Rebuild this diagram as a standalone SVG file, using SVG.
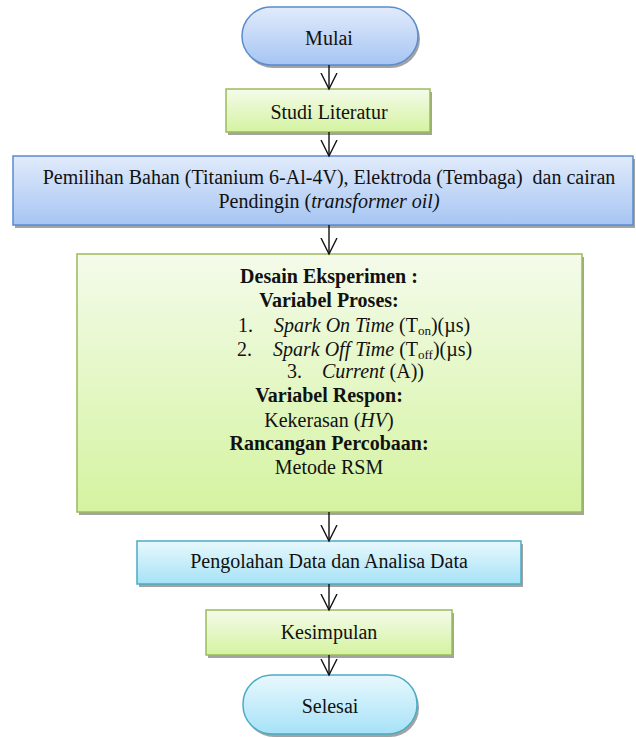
<svg xmlns="http://www.w3.org/2000/svg" width="636" height="738" viewBox="0 0 636 738">
  <defs>
    <linearGradient id="gBlue" x1="0" y1="0" x2="0" y2="1">
      <stop offset="0" stop-color="#e1ebfb"/>
      <stop offset="1" stop-color="#a6c5f3"/>
    </linearGradient>
    <linearGradient id="gGreen" x1="0" y1="0" x2="0" y2="1">
      <stop offset="0" stop-color="#f4fbea"/>
      <stop offset="1" stop-color="#d4f3a0"/>
    </linearGradient>
    <linearGradient id="gCyan" x1="0" y1="0" x2="0" y2="1">
      <stop offset="0" stop-color="#e8f8fd"/>
      <stop offset="1" stop-color="#a6e2f7"/>
    </linearGradient>
    <marker id="arr" markerWidth="18" markerHeight="18" viewBox="0 0 18 18" refX="16" refY="9" orient="auto" markerUnits="userSpaceOnUse">
      <path d="M0,1 L16,9 L0,17" fill="none" stroke="#111" stroke-width="1.4"/>
    </marker>
  </defs>
  <style>
    text { font-family: "Liberation Serif", "Times New Roman", serif; font-size: 20px; fill: #111; }
    .c { text-anchor: middle; }
    .b { font-weight: bold; }
    .i { font-style: italic; }
    .sub { font-size: 13px; }
    .shadow { fill: #a3a3a3; }
    .blue { fill: url(#gBlue); stroke: #5a8ccf; stroke-width: 1.5; }
    .green { fill: url(#gGreen); stroke: #9bbb59; stroke-width: 1.5; }
    .cyan { fill: url(#gCyan); stroke: #4bacc6; stroke-width: 1.5; }
    .link { stroke: #111; stroke-width: 1.4; fill: none; marker-end: url(#arr); }
  </style>

  <rect width="636" height="738" fill="#ffffff"/>

  <!-- Start terminator -->
  <g id="mulai">
    <rect class="shadow" x="244" y="10" width="176" height="58" rx="29"/>
    <rect class="blue" x="242" y="7" width="176" height="58" rx="29"/>
    <text class="c" x="329" y="45">Mulai</text>
  </g>

  <g id="studi-literatur">
    <rect class="shadow" x="228" y="92" width="204" height="43"/>
    <rect class="green" x="226" y="89" width="204" height="43"/>
    <text class="c" x="329" y="119">Studi Literatur</text>
  </g>

  <g id="pemilihan-bahan">
    <rect class="shadow" x="15" y="159" width="620" height="69"/>
    <rect class="blue" x="13" y="156" width="620" height="69"/>
    <text class="c" x="329" y="184" xml:space="preserve">Pemilihan Bahan (Titanium 6-Al-4V), Elektroda (Tembaga)  dan cairan</text>
    <text class="c" x="329" y="208">Pendingin (<tspan class="i">transformer oil)</tspan></text>
  </g>

  <g id="desain-eksperimen">
    <rect class="shadow" x="79" y="257" width="505" height="258"/>
    <rect class="green" x="77" y="254" width="505" height="258"/>
    <text class="c b" x="329" y="283">Desain Eksperimen :</text>
    <text class="c b" x="329" y="307">Variabel Proses:</text>
    <text x="238" y="332">1.</text>
    <text x="274" y="332"><tspan class="i">Spark On Time</tspan> (T<tspan class="sub" dy="3">on</tspan><tspan dy="-3">)(µs)</tspan></text>
    <text x="237" y="356">2.</text>
    <text x="273" y="356"><tspan class="i">Spark Off Time</tspan> (T<tspan class="sub" dy="3">off</tspan><tspan dy="-3">)(µs)</tspan></text>
    <text x="287" y="378">3.</text>
    <text x="322" y="378"><tspan class="i">Current</tspan> (A))</text>
    <text class="c b" x="329" y="402">Variabel Respon:</text>
    <text class="c" x="329" y="427">Kekerasan (<tspan class="i">HV</tspan>)</text>
    <text class="c b" x="329" y="450">Rancangan Percobaan:</text>
    <text class="c" x="329" y="474">Metode RSM</text>
  </g>

  <g id="pengolahan-data">
    <rect class="shadow" x="139" y="544" width="384" height="43"/>
    <rect class="cyan" x="137" y="541" width="384" height="43"/>
    <text class="c" x="329" y="568">Pengolahan Data dan Analisa Data</text>
  </g>

  <g id="kesimpulan">
    <rect class="shadow" x="208" y="613" width="246" height="45"/>
    <rect class="green" x="206" y="610" width="246" height="45"/>
    <text class="c" x="329" y="639">Kesimpulan</text>
  </g>

  <!-- End terminator -->
  <g id="selesai">
    <rect class="shadow" x="245" y="678" width="174" height="59" rx="29"/>
    <rect class="cyan" x="243" y="675" width="174" height="59" rx="29"/>
    <text class="c" x="330" y="713">Selesai</text>
  </g>

  <g id="connectors">
    <line class="link" x1="329" y1="65" x2="329" y2="89"/>
    <line class="link" x1="329" y1="132" x2="329" y2="156"/>
    <line class="link" x1="329" y1="225" x2="329" y2="254"/>
    <line class="link" x1="329" y1="512" x2="329" y2="541"/>
    <line class="link" x1="329" y1="584" x2="329" y2="610"/>
    <line class="link" x1="329" y1="655" x2="329" y2="675"/>
  </g>
</svg>
